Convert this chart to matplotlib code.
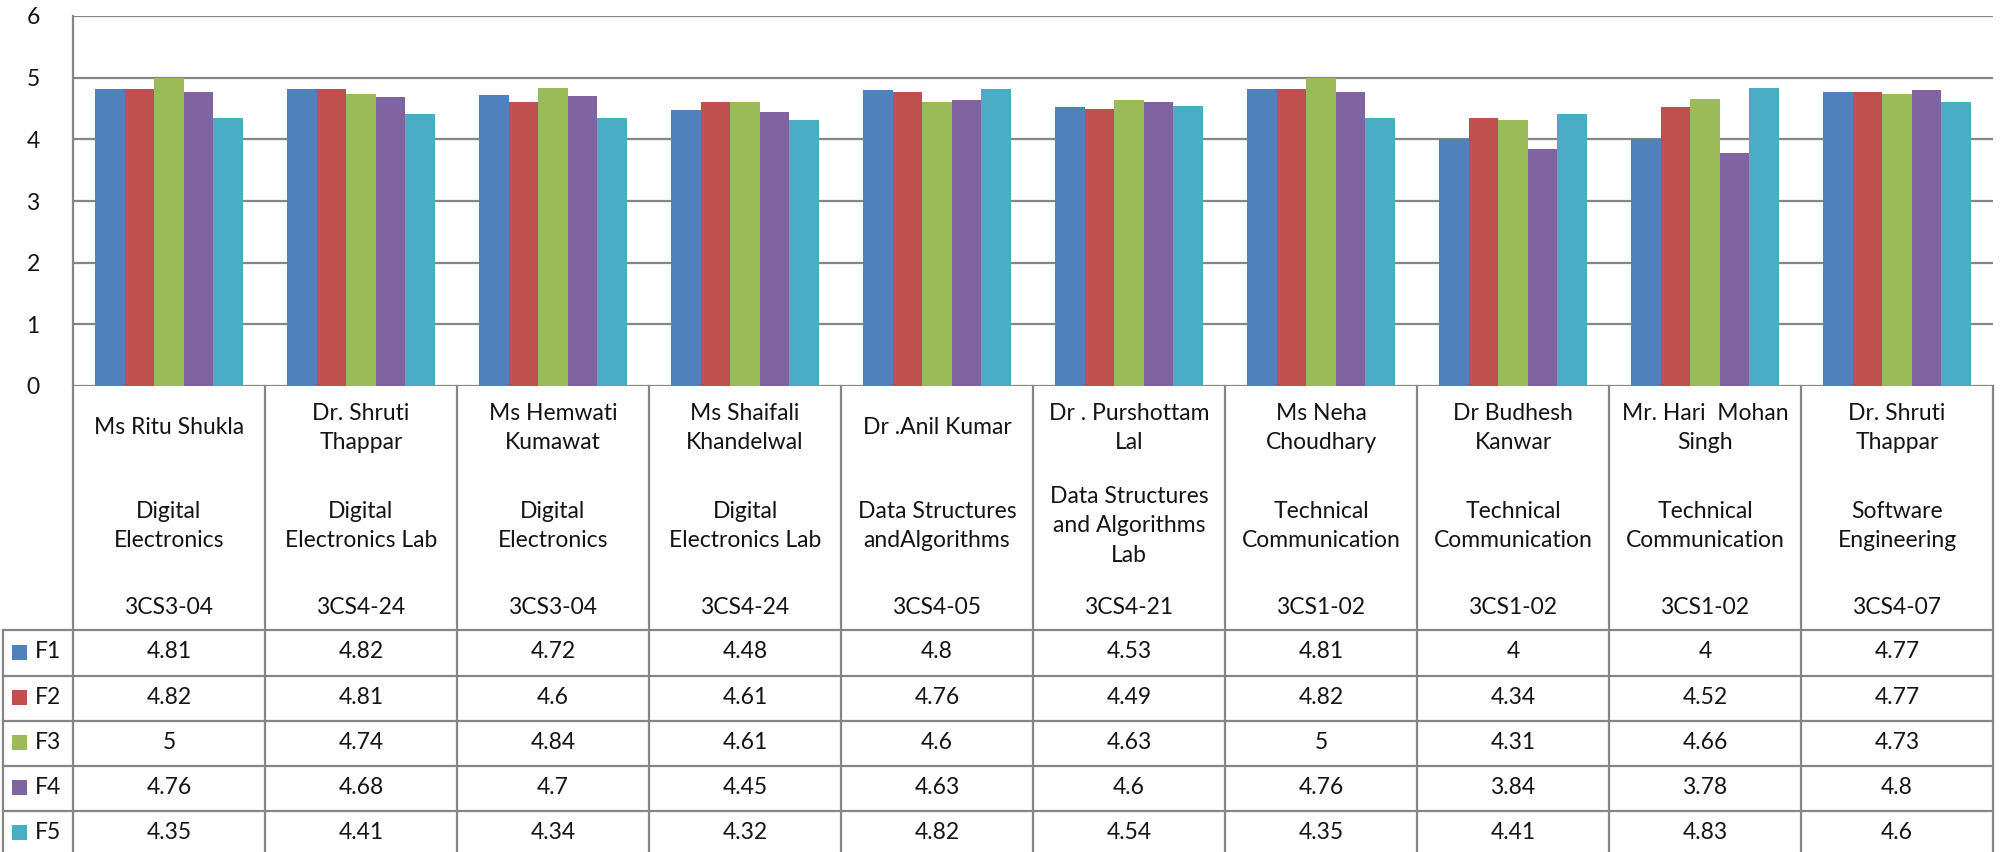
import matplotlib
matplotlib.use("Agg")
import matplotlib.pyplot as plt
from matplotlib.patches import Rectangle
import numpy as np

plt.rcParams['font.family'] = ['Lato', 'DejaVu Sans']

# ---------------- data ----------------
names = ["Ms Ritu Shukla", "Dr. Shruti\nThappar", "Ms Hemwati\nKumawat",
         "Ms Shaifali\nKhandelwal", "Dr .Anil Kumar", "Dr . Purshottam\nLal",
         "Ms Neha\nChoudhary", "Dr Budhesh\nKanwar", "Mr. Hari  Mohan\nSingh",
         "Dr. Shruti\nThappar"]
subjects = ["Digital\nElectronics", "Digital\nElectronics Lab", "Digital\nElectronics",
            "Digital\nElectronics Lab", "Data Structures\nandAlgorithms",
            "Data Structures\nand Algorithms\nLab", "Technical\nCommunication",
            "Technical\nCommunication", "Technical\nCommunication",
            "Software\nEngineering"]
codes = ["3CS3-04", "3CS4-24", "3CS3-04", "3CS4-24", "3CS4-05",
         "3CS4-21", "3CS1-02", "3CS1-02", "3CS1-02", "3CS4-07"]

series_names = ["F1", "F2", "F3", "F4", "F5"]
F1 = [4.81, 4.82, 4.72, 4.48, 4.8, 4.53, 4.81, 4, 4, 4.77]
F2 = [4.82, 4.81, 4.6, 4.61, 4.76, 4.49, 4.82, 4.34, 4.52, 4.77]
F3 = [5, 4.74, 4.84, 4.61, 4.6, 4.63, 5, 4.31, 4.66, 4.73]
F4 = [4.76, 4.68, 4.7, 4.45, 4.63, 4.6, 4.76, 3.84, 3.78, 4.8]
F5 = [4.35, 4.41, 4.34, 4.32, 4.82, 4.54, 4.35, 4.41, 4.83, 4.6]
series = [F1, F2, F3, F4, F5]
colors = ["#4F81BD", "#C0504D", "#9BBB59", "#8064A2", "#4BACC6"]

# ---------------- layout ----------------
W, H = 2001, 852
DPI = 100
fig = plt.figure(figsize=(W / DPI, H / DPI), dpi=DPI)
fig.patch.set_facecolor("white")

def fr(x0, y0, x1, y1):
    return [x0 / W, 1 - y1 / H, (x1 - x0) / W, (y1 - y0) / H]

AX_L, AX_R, AX_T, AX_B = 73, 1993, 16, 386
n = len(codes)
cw = (AX_R - AX_L) / n
grid_c = "#868686"
txt_c = "#141414"
FS = 16.5
LS = 1.5

ax = fig.add_axes(fr(AX_L, AX_T, AX_R, AX_B))
ax.set_xlim(-0.5, n - 0.5)
ax.set_ylim(0, 6)
ax.set_yticks(range(0, 7))
ax.set_xticks([])
for s in ["top", "right", "bottom"]:
    ax.spines[s].set_visible(False)
ax.spines["left"].set_color(grid_c)
ax.spines["left"].set_linewidth(1.6)
ax.yaxis.grid(True, color=grid_c, linewidth=1.6)
ax.set_axisbelow(True)
ax.tick_params(axis="y", length=0, pad=24, labelsize=FS, labelcolor=txt_c)

x = np.arange(n)
bw = 0.154
for i, (vals, c) in enumerate(zip(series, colors)):
    ax.bar(x + (i - 2) * bw, vals, width=bw, color=c, linewidth=0, zorder=3)

# ---------------- data table ----------------
tab = fig.add_axes(fr(0, AX_B, AX_R, H))
tab.set_xlim(-0.5 - AX_L / cw, n - 0.5)
tab.set_ylim(H, AX_B)
tab.axis("off")

def xd(px):
    return -0.5 + (px - AX_L) / cw

row_y = [630, 676, 721, 766, 811, 856]
LEG_L = 3

# vertical lines
for k in range(n + 1):
    tab.plot([k - 0.5, k - 0.5], [AX_B, H + 5], color=grid_c, lw=1.6, clip_on=False)
tab.plot([xd(LEG_L), xd(LEG_L)], [row_y[0], H + 5], color=grid_c, lw=1.6, clip_on=False)
# horizontal lines
for y in row_y[:-1]:
    tab.plot([xd(LEG_L), n - 0.5], [y, y], color=grid_c, lw=1.6, clip_on=False)

# header text
for k in range(n):
    tab.text(k, 428, names[k], ha="center", va="center", fontsize=FS,
             color=txt_c, linespacing=LS)
    tab.text(k, 526, subjects[k], ha="center", va="center", fontsize=FS,
             color=txt_c, linespacing=LS)
    tab.text(k, 608, codes[k], ha="center", va="center", fontsize=FS, color=txt_c)

# rows
for r, (name, vals, c) in enumerate(zip(series_names, series, colors)):
    yc = (row_y[r] + row_y[r + 1]) / 2 - 1
    tab.add_patch(Rectangle((xd(12), yc - 7.5), 15 / cw, 15, facecolor=c,
                            edgecolor="none", clip_on=False))
    tab.text(xd(35), yc, name, ha="left", va="center", fontsize=FS, color=txt_c)
    for k, v in enumerate(vals):
        tab.text(k, yc, f"{v:g}", ha="center", va="center", fontsize=FS, color=txt_c)

fig.savefig("out.png", dpi=DPI, facecolor="white")
